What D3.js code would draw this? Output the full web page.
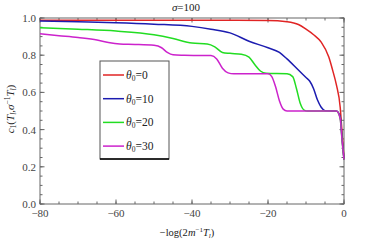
<!DOCTYPE html>
<html>
<head>
<meta charset="utf-8">
<script src="https://cdn.jsdelivr.net/npm/d3@7"></script>
<style>
  body { margin: 0; background: #fff; }
  svg { display: block; font-family: "Liberation Serif", "DejaVu Serif", serif; }
</style>
</head>
<body>
<div id="chart"></div>
<script>
// data: x = -log(2 m^-1 T_l), y = c1
const xTicks = [-80, -60, -40, -20, 0]
const yTicks = [0.0, 0.2, 0.4, 0.6, 0.8, 1.0]

const redX = [-80, -40, -20, -15, -12, -10, -8, -6, -4, -3, -2, -1, -0.5, 0]
const redY = [0.988, 0.988, 0.987, 0.98, 0.965, 0.94, 0.91, 0.87, 0.79, 0.72, 0.64, 0.52, 0.38, 0.24]

const blueX = [-80, -70, -60, -50, -40, -35, -30, -25, -20, -17, -15, -12, -10, -9, -8, -7, -6, -5, -3, -2, -1, -0.5, 0]
const blueY = [0.984, 0.98, 0.975, 0.967, 0.955, 0.94, 0.92, 0.875, 0.84, 0.815, 0.78, 0.72, 0.68, 0.66, 0.62, 0.56, 0.52, 0.502, 0.5, 0.5, 0.47, 0.35, 0.24]

const greenX = [-80, -70, -60, -50, -45, -40, -36, -34, -32, -30, -27, -25, -23.5, -22, -20.5, -15, -13.5, -12.5, -11.5, -10.5, -9.5, -2, -1, -0.5, 0]
const greenY = [0.948, 0.94, 0.93, 0.91, 0.89, 0.865, 0.86, 0.845, 0.815, 0.81, 0.805, 0.79, 0.75, 0.715, 0.703, 0.70, 0.685, 0.62, 0.54, 0.505, 0.5, 0.5, 0.46, 0.34, 0.24]

const magX = [-80, -75, -70, -65, -62, -59, -55, -50, -48, -46.5, -45, -42, -35, -33.5, -32, -30.5, -29, -20, -19, -18, -17, -16, -15, -2, -1, -0.5, 0]
const magY = [0.915, 0.905, 0.895, 0.882, 0.868, 0.86, 0.858, 0.853, 0.84, 0.815, 0.802, 0.80, 0.798, 0.78, 0.73, 0.705, 0.70, 0.70, 0.685, 0.63, 0.555, 0.51, 0.5, 0.5, 0.46, 0.34, 0.24]

const series = [
  { label: "0",  color: "#e02424", xs: redX,   ys: redY },
  { label: "10", color: "#1c1cb0", xs: blueX,  ys: blueY },
  { label: "20", color: "#22dd22", xs: greenX, ys: greenY },
  { label: "30", color: "#cc22cc", xs: magX,   ys: magY }
]

const W = 392, H = 244
const m = { top: 18, right: 48, bottom: 40, left: 40 }
const w = W - m.left - m.right
const h = H - m.top - m.bottom

const svg = d3.select("#chart").append("svg")
  .attr("width", W).attr("height", H)

const g = svg.append("g").attr("transform", `translate(${m.left},${m.top})`)

const x = d3.scaleLinear().domain([-80, 0]).range([0, w])
const y = d3.scaleLinear().domain([0, 1]).range([h, 0])

const axisCol = "#666"

// frame
g.append("rect")
  .attr("x", 0).attr("y", 0).attr("width", w).attr("height", h)
  .attr("fill", "none").attr("stroke", axisCol).attr("stroke-width", 1)

// ticks on all four sides, pointing inward (major + minor)
const xMinor = d3.range(-80, 0.1, 5)
const yMinor = d3.range(0, 1.001, 0.05)

function tickLines(vals, len, horiz) {
  vals.forEach(v => {
    if (horiz) {
      g.append("line").attr("x1", x(v)).attr("x2", x(v)).attr("y1", h).attr("y2", h - len)
        .attr("stroke", axisCol)
      g.append("line").attr("x1", x(v)).attr("x2", x(v)).attr("y1", 0).attr("y2", len)
        .attr("stroke", axisCol)
    } else {
      g.append("line").attr("y1", y(v)).attr("y2", y(v)).attr("x1", 0).attr("x2", len)
        .attr("stroke", axisCol)
      g.append("line").attr("y1", y(v)).attr("y2", y(v)).attr("x1", w).attr("x2", w - len)
        .attr("stroke", axisCol)
    }
  })
}
tickLines(xMinor, 2.5, true)
tickLines(xTicks, 4.5, true)
tickLines(yMinor, 2.5, false)
tickLines(yTicks, 4.5, false)

// tick labels
g.selectAll(".xl").data(xTicks).join("text")
  .attr("x", d => x(d)).attr("y", h + 13)
  .attr("text-anchor", "middle")
  .style("font-size", "11px").style("fill", "#444")
  .text(d => d < 0 ? "\u2212" + Math.abs(d) : d)

g.selectAll(".yl").data(yTicks).join("text")
  .attr("x", -4).attr("y", d => y(d) + 4)
  .attr("text-anchor", "end")
  .style("font-size", "11px").style("fill", "#444")
  .text(d => d3.format(".1f")(d))

// curves
const line = d3.line().curve(d3.curveMonotoneX)
series.forEach(s => {
  const pts = s.xs.map((v, i) => [x(v), y(s.ys[i])])
  g.append("path")
    .attr("d", line(pts))
    .attr("fill", "none").attr("stroke", s.color).attr("stroke-width", 1.5)
})

// title
svg.append("text")
  .attr("x", 186).attr("y", 11)
  .attr("text-anchor", "middle")
  .style("font-size", "11px").style("fill", "#222")
  .html('<tspan font-style="italic">\u03c3</tspan>=100')

// x label
svg.append("text")
  .attr("x", 187).attr("y", 236)
  .attr("text-anchor", "middle")
  .style("font-size", "10.5px").style("fill", "#222")
  .html('\u2212log(2<tspan font-style="italic">m</tspan><tspan dy="-4" font-size="7px">\u22121</tspan><tspan dy="4" font-style="italic">T</tspan><tspan dy="2" font-size="7px" font-style="italic">l</tspan><tspan dy="-2">)</tspan>')

// y label
svg.append("text")
  .attr("transform", "translate(14,109) rotate(-90)")
  .attr("text-anchor", "middle")
  .style("font-size", "11px").style("fill", "#222")
  .html('<tspan font-style="italic">c</tspan><tspan dy="2" font-size="7.5px">1</tspan><tspan dy="-2">(</tspan><tspan font-style="italic">T</tspan><tspan dy="2" font-size="7.5px" font-style="italic">l</tspan><tspan dy="-2">,</tspan><tspan font-style="italic">\u03c3</tspan><tspan dy="-4" font-size="7.5px">\u22121</tspan><tspan dy="4" font-style="italic">T</tspan><tspan dy="2" font-size="7.5px" font-style="italic">l</tspan><tspan dy="-2">)</tspan>')

// legend
const lg = svg.append("g").attr("transform", "translate(100,61)")
lg.append("rect").attr("x", 0).attr("y", 0).attr("width", 69).attr("height", 98)
  .attr("fill", "#fff").attr("stroke", "#555").attr("stroke-width", 1)
lg.append("line").attr("x1", 0).attr("x2", 69).attr("y1", 98).attr("y2", 98)
  .attr("stroke", "#000").attr("stroke-width", 1.5)

series.forEach((s, i) => {
  const ly = 14 + i * 23.7
  lg.append("line").attr("x1", 3).attr("x2", 24).attr("y1", ly).attr("y2", ly)
    .attr("stroke", s.color).attr("stroke-width", 1.5)
  lg.append("text").attr("x", 26).attr("y", ly + 4)
    .style("font-size", "11.5px").style("fill", "#222")
    .html(`<tspan font-style="italic">\u03b8</tspan><tspan dy="2" font-size="7.5px">0</tspan><tspan dy="-2">=${s.label}</tspan>`)
})
</script>
</body>
</html>
